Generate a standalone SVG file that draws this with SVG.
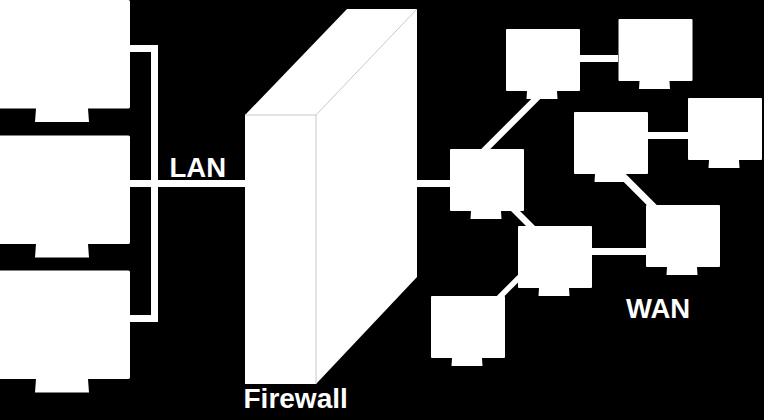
<svg xmlns="http://www.w3.org/2000/svg" width="764" height="420" viewBox="0 0 764 420">
<style>
.c{stroke:#fff;fill:none;stroke-width:7}
.d{stroke:#fff;fill:none;stroke-width:6.300}
.p{fill:#fff}
.e{stroke:#c8c8c8;stroke-width:1;fill:none}
text{font-family:"Liberation Sans",Arial,sans-serif;font-weight:700;font-size:27.500px;fill:#fff}
</style>
<defs>
<path id="big" d="M-2 0H128.500Q130 0 130 1.500V107Q130 108 128.500 108.500H88L89 122H35L36 108.500H-2Z"/>
<path id="small" d="M1 0H73Q74 0 74 1V61Q74 62 73 62H51L51.500 70H20.500L21 62H1Q0 62 0 61V1Q0 0 1 0Z"/>
</defs>
<rect width="764" height="420" fill="#000"/>
<g id="connectors">
<path class="c" d="M130 48.500H154.500V318.500H130M130 183.500H245"/>
<path class="c" d="M417 183.500H450M580 58.500H618M648 135.500H688M592 251.500H646"/>
<path class="d" d="M480 154.700L540 94.700"/>
<path class="d" style="stroke-width:7" d="M620 173.300L660 213.300"/>
<path class="d" d="M510 205.500L535 230.500"/>
<path class="d" style="stroke-width:5.500" d="M495 301.700L525 271.700"/>
</g>
<g id="pc-1" class="p"><use href="#big" y="0"/></g>
<g id="pc-2" class="p"><use href="#big" y="135.500"/></g>
<g id="pc-3" class="p"><use href="#big" y="270.500"/></g>
<g id="firewall">
<path class="p" d="M245 115L347 9H417V277L316 384H245Z"/>
<path class="e" d="M245 115H316V384M316 115L417 9"/>
</g>
<g id="node-1" class="p"><use href="#small" x="506" y="29"/></g>
<g id="node-2" class="p"><use href="#small" x="618.500" y="19"/></g>
<g id="node-3" class="p"><use href="#small" x="688" y="98"/></g>
<g id="node-4" class="p"><use href="#small" x="574" y="112"/></g>
<g id="node-5" class="p"><use href="#small" x="646" y="205"/></g>
<g id="node-6" class="p"><use href="#small" x="450" y="149"/></g>
<g id="node-7" class="p"><use href="#small" x="518" y="226"/></g>
<g id="node-8" class="p"><use href="#small" x="431" y="296"/></g>
<text x="169.500" y="176.500">LAN</text>
<text x="243.500" y="408" style="font-size:28px">Firewall</text>
<text x="626" y="318">WAN</text>
</svg>
